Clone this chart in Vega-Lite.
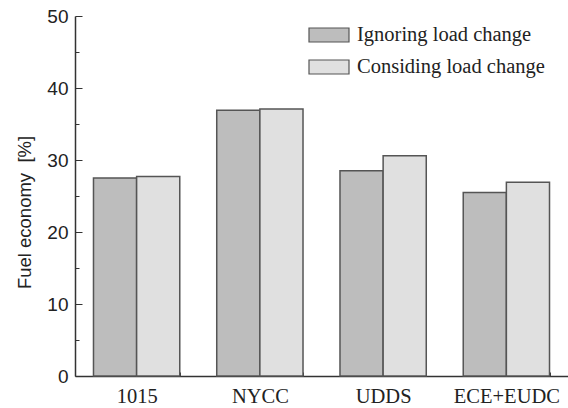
{
  "$schema": "https://vega.github.io/schema/vega-lite/v6.json",
  "width": 493,
  "height": 360,
  "autosize": "none",
  "padding": {"left": 75, "top": 16, "right": 0, "bottom": 32},
  "background": "white",
  "config": {"view": {"stroke": null}},
  "data": {
    "values": [
      {"cycle": "1015", "case": "Ignoring load change", "economy": 27.5},
      {"cycle": "1015", "case": "Considing load change", "economy": 27.7},
      {"cycle": "NYCC", "case": "Ignoring load change", "economy": 36.9},
      {"cycle": "NYCC", "case": "Considing load change", "economy": 37.1},
      {"cycle": "UDDS", "case": "Ignoring load change", "economy": 28.5},
      {"cycle": "UDDS", "case": "Considing load change", "economy": 30.6},
      {"cycle": "ECE+EUDC", "case": "Ignoring load change", "economy": 25.5},
      {"cycle": "ECE+EUDC", "case": "Considing load change", "economy": 26.9}
    ]
  },
  "mark": {"type": "bar", "stroke": "#555555", "strokeWidth": 1.5},
  "encoding": {
    "x": {
      "field": "cycle",
      "type": "nominal",
      "sort": ["1015", "NYCC", "UDDS", "ECE+EUDC"],
      "scale": {"paddingInner": 0.3, "paddingOuter": 0.15},
      "axis": {
        "title": null,
        "labelAngle": 0,
        "labelFont": "Liberation Serif",
        "labelFontSize": 20.5,
        "labelColor": "#222222",
        "labelPadding": 14,
        "tickBand": "extent",
        "tickSize": -4,
        "tickColor": "#333333",
        "domainColor": "#333333",
        "domainWidth": 1.5
      }
    },
    "xOffset": {
      "field": "case",
      "type": "nominal",
      "sort": ["Ignoring load change", "Considing load change"]
    },
    "y": {
      "field": "economy",
      "type": "quantitative",
      "scale": {"domain": [0, 50], "nice": false},
      "axis": {
        "title": "Fuel economy\u00a0\u00a0[%]",
        "titleFont": "Liberation Sans",
        "titleFontSize": 18.5,
        "titleFontWeight": "normal",
        "titleColor": "#222222",
        "titlePadding": 12,
        "titleY": 196,
        "values": [0, 5, 10, 15, 20, 25, 30, 35, 40, 45, 50],
        "labelExpr": "datum.value % 10 === 0 ? datum.label : ''",
        "labelFont": "Liberation Sans",
        "labelFontSize": 19,
        "labelColor": "#222222",
        "labelPadding": 14,
        "tickSize": {"condition": {"test": "datum.value % 10 === 0", "value": -7}, "value": -4},
        "tickColor": "#333333",
        "domainColor": "#333333",
        "domainWidth": 1.5,
        "grid": false
      }
    },
    "fill": {
      "field": "case",
      "type": "nominal",
      "sort": ["Ignoring load change", "Considing load change"],
      "scale": {"range": ["#bdbdbd", "#e0e0e0"]},
      "legend": {
        "title": null,
        "orient": "none",
        "legendX": 233,
        "legendY": -2,
        "symbolType": "M-1,-0.35H1V0.35H-1Z",
        "symbolSize": 1600,
        "symbolStrokeColor": "#555555",
        "symbolStrokeWidth": 1.2,
        "labelFont": "Liberation Serif",
        "labelFontSize": 20.5,
        "labelColor": "#222222",
        "labelOffset": 7,
        "labelLimit": 400,
        "rowPadding": -17
      }
    }
  }
}
